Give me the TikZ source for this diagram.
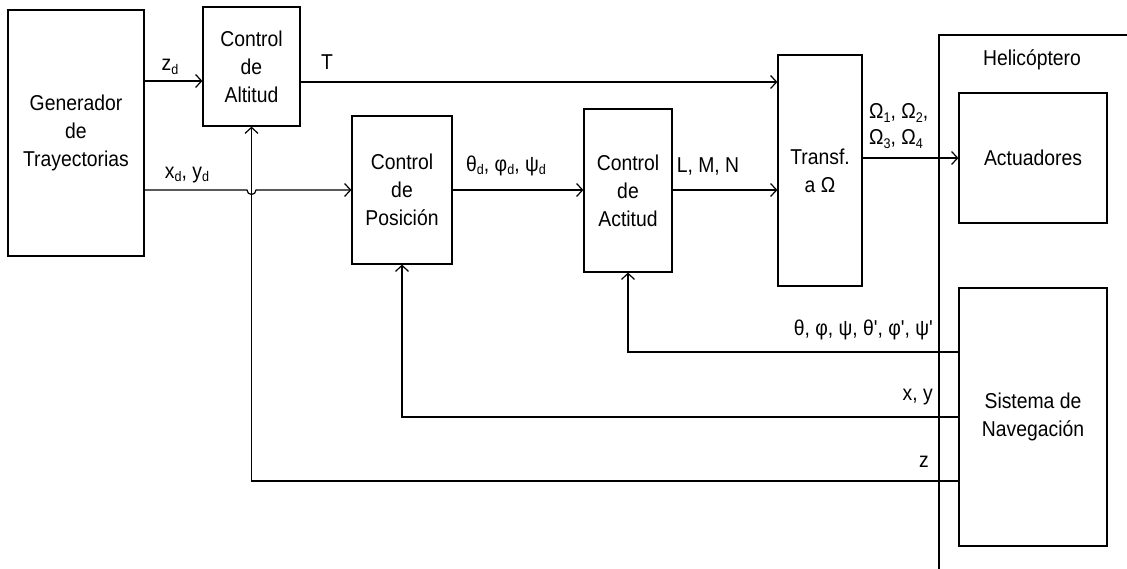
\documentclass[tikz,border=0pt]{standalone}
\usepackage{fontspec}
\setmainfont{Liberation Sans}[FakeStretch=0.9]
\newfontfamily\nomapfont{Liberation Sans}[FakeStretch=0.9,Ligatures=TeXOff]
\usetikzlibrary{arrows.meta,calc}
\newcommand\sbs[1]{\raisebox{-0.3ex}{\fontsize{14}{14}\selectfont #1}}
\newcommand\apos{{\nomapfont '}}
\begin{document}
\begin{tikzpicture}[x=1pt,y=-1pt,
  blk/.style={draw,line width=1.2pt,inner sep=0pt,align=center,font=\fontsize{21.5}{28}\selectfont},
  lbl/.style={inner sep=0pt,font=\fontsize{21.5}{26}\selectfont},
  conn/.style={line width=1.2pt},
  arr/.style={conn,-{Straight Barb[length=6pt,width=13pt,line width=1.2pt]}}]
\useasboundingbox (0,0) rectangle (1127,569);
% blocks
\node[blk,minimum width=136,minimum height=246] (gen) at (76,133) {Generador\\de\\Trayectorias};
\node[blk,minimum width=97,minimum height=119] (alt) at (251.5,66.5) {Control\\de\\Altitud};
\node[blk,minimum width=100,minimum height=148] (pos) at (402,190) {Control\\de\\Posición};
\node[blk,minimum width=88,minimum height=163] (act) at (628,190.5) {Control\\de\\Actitud};
\node[blk,minimum width=84,minimum height=231] (tra) at (820,170.5) {Transf.\\a Ω};
\node[blk,minimum width=148,minimum height=130] (acu) at (1033,158) {Actuadores};
\node[blk,minimum width=148,minimum height=258] (nav) at (1033,417) {Sistema de\\Navegación};
% helicopter frame
\coordinate (hbl) at (939,569);
\coordinate (htl) at (939,35);
\coordinate (htr) at (1127,35);
\draw[conn] (hbl) -- (htl) -- (htr);
\node[lbl] (hel) at (1032,60) {Helicóptero};
% forward path
\coordinate (yzd) at (0,81);
\coordinate (yT) at (0,82);
\coordinate (yxd) at (0,190);
\coordinate (yom) at (0,158);
\draw[arr] (gen.east|-yzd) -- (alt.west|-yzd);
\draw[arr] (alt.east|-yT) -- (tra.west|-yT);
\draw[arr] (gen.east|-yxd) -- ($(alt.south|-yxd)+(-4.5,0)$) arc[start angle=180,end angle=0,radius=4.5] -- (pos.west|-yxd);
\draw[arr] (pos.east|-yxd) -- (act.west|-yxd);
\draw[arr] (act.east|-yxd) -- (tra.west|-yxd);
\draw[arr] (tra.east|-yom) -- (acu.west);
% feedback
\coordinate (yth) at (0,352);
\coordinate (yxy) at (0,417);
\coordinate (yz) at (0,481);
\draw[arr] (nav.west|-yth) -| (act.south);
\draw[arr] (nav.west|-yxy) -| (pos.south);
\draw[arr] (nav.west|-yz) -| (alt.south);
% labels
\node[lbl] (lzd) at (170,67) {z\sbs{d}};
\node[lbl] (lT) at (327,62) {T};
\node[lbl] (lxd) at (187,175) {x\sbs{d}, y\sbs{d}};
\node[lbl] (lth) at (506,166) {θ\sbs{d}, φ\sbs{d}, ψ\sbs{d}};
\node[lbl] (lLMN) at (708,166) {L, M, N};
\node[lbl,anchor=west] (lom1) at (869,113) {Ω\sbs{1}, Ω\sbs{2},};
\node[lbl,anchor=west] (lom2) at (869,139) {Ω\sbs{3}, Ω\sbs{4}};
\node[lbl,anchor=east] (lfb) at (933,330) {θ, φ, ψ, θ\apos, φ\apos, ψ\apos};
\node[lbl,anchor=east] (lxy) at (933,397) {x, y};
\node[lbl,anchor=east] (lz) at (929,462) {z};
\end{tikzpicture}
\end{document}
